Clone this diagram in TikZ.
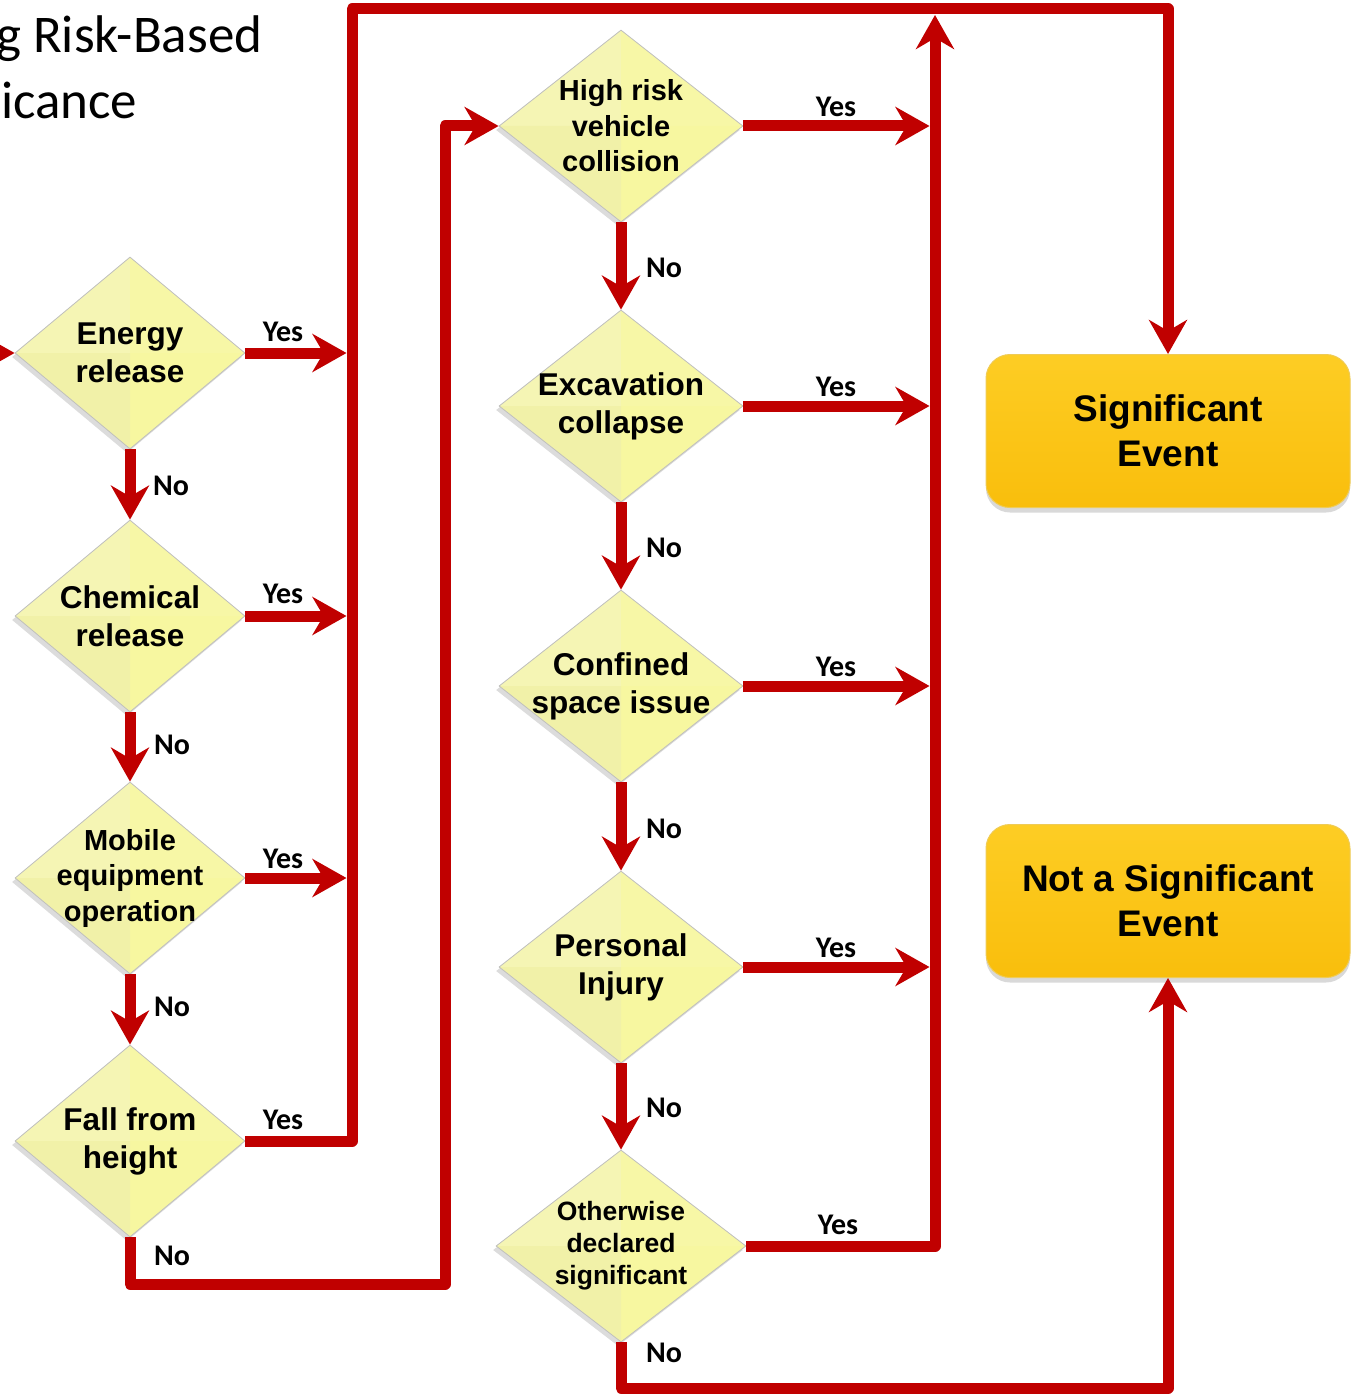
\documentclass[tikz,border=0pt]{standalone}
\usepackage{fontspec}
\setmainfont{Liberation Sans}
\newfontfamily\calibri{Carlito}
\usetikzlibrary{shapes.geometric,arrows.meta,shadows,calc}
\definecolor{flowred}{HTML}{C00000}
\definecolor{dfill}{HTML}{F5F5A6}
\definecolor{faceA}{HTML}{F5F5B4}
\definecolor{faceB}{HTML}{F7F7A6}
\definecolor{faceC}{HTML}{F7F7A0}
\definecolor{faceD}{HTML}{F1F1A8}
\definecolor{goldtop}{HTML}{FDCD24}
\definecolor{goldbot}{HTML}{F9BE0C}
\definecolor{goldedge}{HTML}{EFCB55}
\begin{document}
\begin{tikzpicture}[x=1pt,y=1pt,
  flow/.style={draw=flowred, line width=11pt, line join=round},
  arr/.style={flow, -{Stealth[length=34pt,width=38pt,inset=11pt]}},
  decision/.style={diamond, draw=gray!50, line width=0.8pt, inner sep=0pt,
    minimum width=230pt, minimum height=192pt, fill=dfill,
    drop shadow={shadow xshift=-3pt, shadow yshift=-4pt, opacity=0.28},
    path picture={
      \fill[faceA] (path picture bounding box.center) -- (path picture bounding box.north) -- (path picture bounding box.west) -- cycle;
      \fill[faceB] (path picture bounding box.center) -- (path picture bounding box.north) -- (path picture bounding box.east) -- cycle;
      \fill[faceC] (path picture bounding box.center) -- (path picture bounding box.south) -- (path picture bounding box.east) -- cycle;
      \fill[faceD] (path picture bounding box.center) -- (path picture bounding box.south) -- (path picture bounding box.west) -- cycle;
    }},
  wide/.style={minimum width=244pt},
  dtext/.style={font=\bfseries\fontsize{31.5}{38}\selectfont, align=center, text=black, inner sep=0pt},
  dsmall/.style={font=\bfseries\fontsize{29}{35.5}\selectfont},
  dtiny/.style={font=\bfseries\fontsize{26.5}{32}\selectfont},
  answer/.style={font=\calibri\bfseries\fontsize{30}{32}\selectfont, inner sep=0pt},
  endbox/.style={rounded corners=24pt, minimum width=364pt, minimum height=153pt,
    draw=goldedge, line width=1pt, top color=goldtop, bottom color=goldbot,
    drop shadow={shadow xshift=0pt, shadow yshift=-5pt, opacity=0.3},
    font=\bfseries\fontsize{37}{45}\selectfont, align=center, text=black},
  title/.style={font=\calibri\fontsize{53}{65}\selectfont, inner sep=0pt, anchor=base west}
]
\useasboundingbox (0,0) rectangle (1352,-1394);

% heading, running off the left edge
\node[title] (title1) at (-4,-53) {g Risk-Based};
\node[title] (title2) at (1,-118) {icance};

% left column of questions
\node[decision] (energy) at (130,-353) {};
\node[decision] (chem)   at (130,-616) {};
\node[decision] (mobile) at (130,-878) {};
\node[decision] (fall)   at (130,-1141) {};
\node[dtext] (energyT) at (energy) {Energy\\release};
\node[dtext] (chemT)   at (chem) {Chemical\\release};
\node[dtext,dsmall] (mobileT) at (mobile) {Mobile\\equipment\\operation};
\node[dtext] (fallT)   at (fall) {Fall from\\height};

% middle column of questions
\node[decision,wide] (vehicle)  at (621,-126) {};
\node[decision,wide] (excav)    at (621,-406) {};
\node[decision,wide] (confined) at (621,-686) {};
\node[decision,wide] (injury)   at (621,-967) {};
\node[decision,minimum width=250pt] (otherwise) at (621,-1246) {};
\node[dtext,dsmall] (vehicleT) at (vehicle) {High risk\\vehicle\\collision};
\node[dtext] (excavT)    at (excav) {Excavation\\collapse};
\node[dtext] (confinedT) at (confined) {Confined\\space issue};
\node[dtext] (injuryT)   at (injury) {Personal\\Injury};
\node[dtext,dtiny] (otherwiseT) at (otherwise) {Otherwise\\declared\\significant};

% outcomes
\node[endbox] (sig)    at (1168,-431) {Significant\\Event};
\node[endbox] (notsig) at (1168,-901) {Not a Significant\\Event};

% routing points
\coordinate (entry)     at (-40,-353);
\coordinate (topleft)   at (352,-9);
\coordinate (topright)  at (1168,-9);
\coordinate (rbustop)   at (935,-15);
\coordinate (fallturn)  at (445,-1284);
\coordinate (otherturn) at (1168,-1388);

% left column: No chain
\draw[arr] (entry) -- (energy.west);
\draw[arr] (energy.south) -- (chem.north);
\draw[arr] (chem.south) -- (mobile.north);
\draw[arr] (mobile.south) -- (fall.north);
\draw[arr] (fall.south) |- (fallturn) |- (vehicle.west);

% left column: Yes bus to Significant Event
\draw[arr] (fall.east) -| (topleft) -- (topright) -- (sig.north);
\draw[arr] (energy.east) -- ([xshift=-5.5pt]energy.east -| topleft);
\draw[arr] (chem.east) -- ([xshift=-5.5pt]chem.east -| topleft);
\draw[arr] (mobile.east) -- ([xshift=-5.5pt]mobile.east -| topleft);

% middle column: No chain
\draw[arr] (vehicle.south) -- (excav.north);
\draw[arr] (excav.south) -- (confined.north);
\draw[arr] (confined.south) -- (injury.north);
\draw[arr] (injury.south) -- (otherwise.north);
\draw[arr] (otherwise.south) |- (otherturn) -- (notsig.south);

% middle column: Yes bus
\draw[arr] (otherwise.east) -| (rbustop);
\draw[arr] (vehicle.east) -- ([xshift=-5.5pt]vehicle.east -| rbustop);
\draw[arr] (excav.east) -- ([xshift=-5.5pt]excav.east -| rbustop);
\draw[arr] (confined.east) -- ([xshift=-5.5pt]confined.east -| rbustop);
\draw[arr] (injury.east) -- ([xshift=-5.5pt]injury.east -| rbustop);

% answer labels
\node[answer] (y1) at (283,-332) {Yes};
\node[answer] (y2) at (283,-594) {Yes};
\node[answer] (y3) at (283,-859) {Yes};
\node[answer] (y4) at (283,-1120) {Yes};
\node[answer] (n1) at (171,-486) {No};
\node[answer] (n2) at (172,-745) {No};
\node[answer] (n3) at (172,-1007) {No};
\node[answer] (n4) at (172,-1256) {No};
\node[answer] (y5) at (836,-107) {Yes};
\node[answer] (y6) at (836,-387) {Yes};
\node[answer] (y7) at (836,-667) {Yes};
\node[answer] (y8) at (836,-948) {Yes};
\node[answer] (y9) at (838,-1225) {Yes};
\node[answer] (n5) at (664,-268) {No};
\node[answer] (n6) at (664,-548) {No};
\node[answer] (n7) at (664,-829) {No};
\node[answer] (n8) at (664,-1108) {No};
\node[answer] (n9) at (664,-1353) {No};
\end{tikzpicture}
\end{document}
